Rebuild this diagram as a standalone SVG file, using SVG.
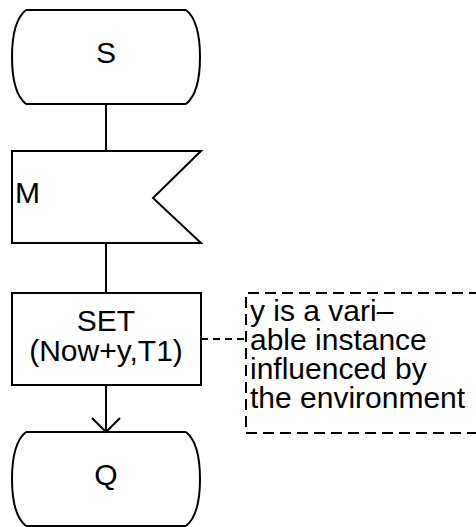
<svg xmlns="http://www.w3.org/2000/svg" width="476" height="527" viewBox="0 0 476 527">
<style>
.sh{fill:none;stroke:#000;stroke-width:2}
.ln{fill:none;stroke:#000;stroke-width:2}
.dash{fill:none;stroke:#000;stroke-width:2;stroke-dasharray:11 6}
.dc{fill:none;stroke:#000;stroke-width:2;stroke-dasharray:7 5}
text{font-family:"Liberation Sans",Arial,sans-serif;font-size:30px;fill:#000}
.c{text-anchor:middle}
</style>
<rect width="476" height="527" fill="#fff"/>
<g id="S">
<path class="sh" d="M26,10 H186 M26,104 H186 M26,10 C16,18 12,35 12,57 C12,79 16,96 26,104 M186,10 C196,18 200,35 200,57 C200,79 196,96 186,104"/>
<text class="c" x="106" y="63">S</text>
</g>
<g id="M">
<polygon class="sh" points="12,151 201,151 153,198 201,243 12,243"/>
<text x="15" y="203">M</text>
</g>
<g id="SET">
<rect class="sh" x="12" y="293" width="189" height="92"/>
<text class="c" x="106" y="331">SET</text>
<text class="c" x="106" y="361">(Now+y,T1)</text>
</g>
<g id="comment">
<path class="dash" d="M480,293 H246 V433 H480"/>
<text x="250" y="321">y is a vari–</text>
<text x="250" y="350">able instance</text>
<text x="250" y="379">influenced by</text>
<text x="250" y="408">the environment</text>
</g>
<g id="Q">
<path class="sh" d="M26,432 H186 M26,526 H186 M26,432 C16,440 12,457 12,479 C12,501 16,518 26,526 M186,432 C196,440 200,457 200,479 C200,501 196,518 186,526"/>
<text class="c" x="106" y="485">Q</text>
</g>
<g id="connectors">
<path class="ln" d="M106,104 V151"/>
<path class="ln" d="M106,243 V293"/>
<path class="ln" d="M106,385 V432 M92,418 L106,432 L120,418"/>
<path class="dc" d="M201,339 H246"/>
</g>
</svg>
